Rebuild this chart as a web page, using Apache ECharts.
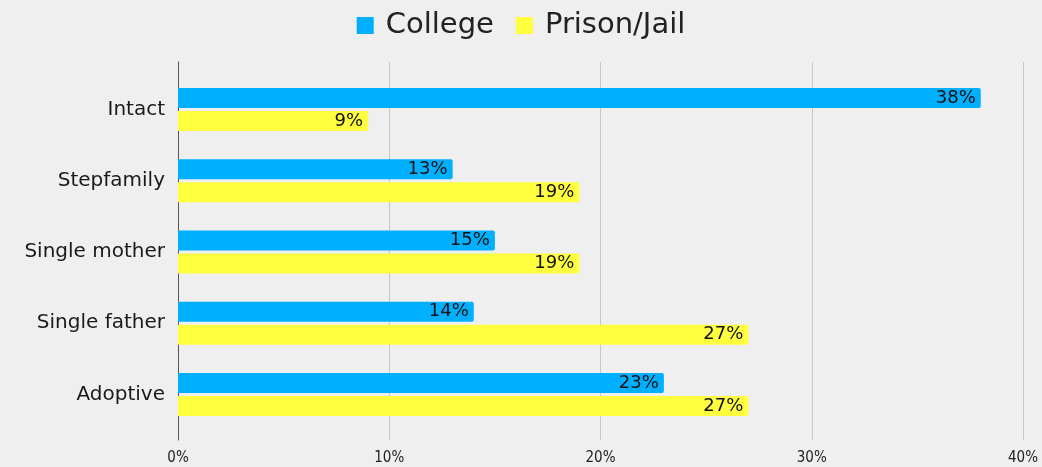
<!DOCTYPE html>
<html>
<head>
<meta charset="utf-8">
<script src="https://cdn.jsdelivr.net/npm/echarts@6/dist/echarts.min.js"></script>
<style>
html,body{margin:0;padding:0;background:#efefef;}
#chart{width:1042px;height:467px;}
</style>
</head>
<body>
<div id="chart"></div>
<script>
const categories = ['Intact', 'Stepfamily', 'Single mother', 'Single father', 'Adoptive'];
const seriesNames = ['College', 'Prison/Jail'];
const college = [38, 13, 15, 14, 23];
const prison = [9, 19, 19, 27, 27];
const xTicks = [0, 10, 20, 30, 40];

const chart = echarts.init(document.getElementById('chart'), null, {renderer: 'canvas'});
const labelStyle = {
  show: true, position: 'insideRight', distance: 5,
  formatter: '{c}%', color: '#111', fontSize: 18,
  fontFamily: 'DejaVu Sans'
};
chart.setOption({
  backgroundColor: '#efefef',
  animation: false,
  legend: {
    top: 6, left: 'center',
    itemWidth: 17, itemHeight: 17, itemGap: 22,
    icon: 'rect',
    textStyle: {fontSize: 29, color: '#222', fontFamily: 'DejaVu Sans', padding: [0, 0, 0, 7]},
    data: seriesNames
  },
  grid: [
    {left: 178, right: 19, top: 62, bottom: 27},
    {left: 178, right: 19, top: 74, bottom: 37}
  ],
  xAxis: [
    {
      gridIndex: 0, type: 'value', min: xTicks[0], max: xTicks[xTicks.length - 1], interval: 10,
      axisLine: {show: false}, axisTick: {show: false},
      splitLine: {show: true, lineStyle: {color: '#c6c6c6', width: 1}},
      axisLabel: {formatter: '{value}%', fontSize: 15, color: '#222', margin: 11,
        fontFamily: '"Liberation Sans Narrow", "DejaVu Sans Condensed", sans-serif'}
    },
    {
      gridIndex: 1, type: 'value', min: xTicks[0], max: xTicks[xTicks.length - 1], interval: 10,
      show: false
    }
  ],
  yAxis: [
    {
      gridIndex: 0, type: 'value', min: 0, max: 1,
      axisLine: {show: true, lineStyle: {color: '#555', width: 1}},
      axisTick: {show: false}, axisLabel: {show: false}, splitLine: {show: false}
    },
    {
      gridIndex: 1, type: 'category', inverse: true, data: categories,
      axisLine: {show: false}, axisTick: {show: false}, splitLine: {show: false},
      axisLabel: {fontSize: 20, color: '#1a1a1a', margin: 13, fontFamily: 'DejaVu Sans'}
    }
  ],
  series: [
    {
      name: seriesNames[0], type: 'bar', xAxisIndex: 1, yAxisIndex: 1,
      data: college, barWidth: 20, barGap: '15%',
      itemStyle: {color: '#00b0ff', borderRadius: [0, 2, 2, 0]},
      label: labelStyle
    },
    {
      name: seriesNames[1], type: 'bar', xAxisIndex: 1, yAxisIndex: 1,
      data: prison, barWidth: 20, barGap: '15%',
      itemStyle: {color: '#ffff40', borderRadius: [0, 2, 2, 0]},
      label: labelStyle
    }
  ]
});
</script>
</body>
</html>
